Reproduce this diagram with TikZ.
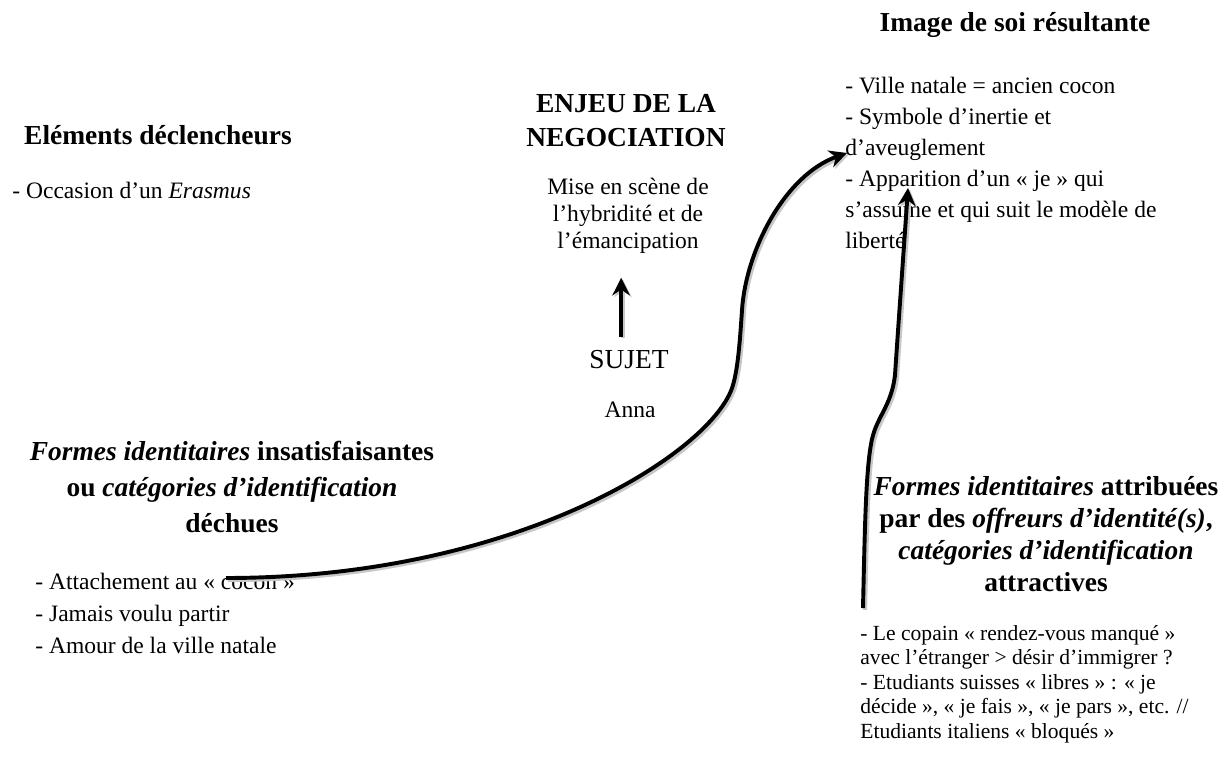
\documentclass[tikz,border=0pt]{standalone}
\usepackage{fontspec}
\setmainfont{Liberation Serif}
\usetikzlibrary{arrows.meta, positioning}

\begin{document}
\begin{tikzpicture}[x=0.51pt, y=-0.51pt,
    % Define simple, standard styles
    head/.style={font=\fontsize{14}{16.3}\selectfont\bfseries, align=center, inner sep=0pt},
    txt/.style={font=\fontsize{12}{13.8}\selectfont, align=left, inner sep=0pt},
    ctxt/.style={font=\fontsize{12}{13.8}\selectfont, align=center, inner sep=0pt},
    arrow/.style={line width=2pt, -{Stealth[length=9pt, width=9pt, inset=3pt]}, draw=black},
    curve/.style={arrow, preaction={draw=black!22, line width=2.4pt, transform canvas={shift={(0.9pt,-0.9pt)}}}}
]
\useasboundingbox (0,0) rectangle (1220,767);

% 1. Left column: triggers and lost identity forms
\node[head, anchor=base] (declencheurs) at (158,145) {El\'ements d\'eclencheurs};
\node[txt, anchor=base west] (occasion) at (12,199) {- Occasion d'un \textit{Erasmus}};
\node[head, anchor=north, font=\fontsize{14}{18.4}\selectfont\bfseries] (formesin) at (232,441)
    {\textit{Formes identitaires} insatisfaisantes \\ ou \textit{cat\'egories d'identification} \\ d\'echues};
\node[txt, anchor=north west, font=\fontsize{12}{16.3}\selectfont] (listin) at (35,573)
    {- Attachement au « cocon » \\ - Jamais voulu partir \\ - Amour de la ville natale};

% 2. Middle column: the stake and the subject
\node[head, anchor=north, font=\fontsize{14}{17.3}\selectfont\bfseries] (enjeu) at (626,94) {ENJEU DE LA \\ NEGOCIATION};
\node[ctxt, anchor=north] (miseenscene) at (628,178)
    {Mise en sc\`ene de \\ l'hybridit\'e et de \\ l'\'emancipation};
\node[anchor=base, inner sep=0pt, font=\fontsize{14}{16.3}\selectfont] (sujet) at (629,369) {SUJET};
\node[ctxt, anchor=base] (anna) at (630,418) {Anna};

% 3. Right column: resulting self image and attractive forms
\node[head, anchor=base] (image) at (1015,32) {Image de soi r\'esultante};
\node[txt, anchor=north west, font=\fontsize{12}{15.8}\selectfont] (listimage) at (845,77)
    {- Ville natale = ancien cocon \\ - Symbole d'inertie et \\ d'aveuglement \\
     - Apparition d'un « je » qui \\ s'assume et qui suit le mod\`ele de \\ libert\'e};
\node[head, anchor=north] (formesatt) at (1046,476)
    {\textit{Formes identitaires} attribu\'ees \\ par des \textit{offreurs d'identit\'e(s)}, \\
     \textit{cat\'egories d'identification} \\ attractives};
\node[txt, anchor=north west, font=\fontsize{11}{12.5}\selectfont] (listatt) at (860,625)
    {- Le copain « rendez-vous manqu\'e » \\ avec l'\'etranger > d\'esir d'immigrer ? \\
     - Etudiants suisses « libres » : « je \\ d\'ecide », « je fais », « je pars », etc. // \\
     Etudiants italiens « bloqu\'es »};

% Free ends of the curved connectors
\coordinate (cocon) at (226,578);
\coordinate (aveugl) at (847,153);
\coordinate (copain) at (863,608);
\coordinate (apparition) at (908,188);

% Draw the connecting arrows
\draw[curve, shorten <=7pt, shorten >=12pt] ([xshift=-4pt]sujet.north) -- ([xshift=-4pt]sujet.north |- miseenscene.south);
\draw[curve] (cocon) .. controls (520,578) and (715,450) .. (733,385)
    .. controls (738,368) and (740,340) .. (742,310)
    .. controls (746,250) and (785,175) .. (aveugl);
\draw[curve] (copain) .. controls (865,520) and (866,455) .. (874,432)
    .. controls (880,414) and (892,402) .. (895,375)
    .. controls (898,330) and (903,260) .. (apparition);

\end{tikzpicture}
\end{document}
